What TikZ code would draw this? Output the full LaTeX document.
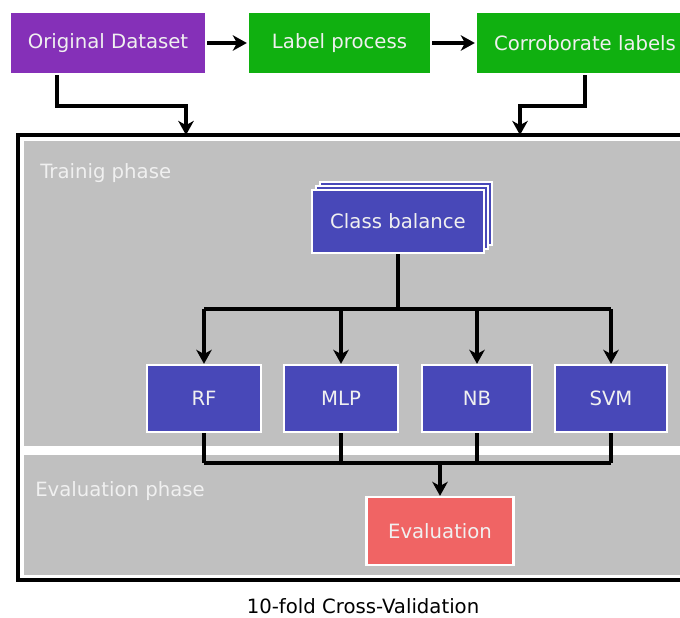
\documentclass[tikz,border=0pt]{standalone}
\usepackage{fontspec}
\setmainfont{DejaVu Sans}
\usetikzlibrary{arrows.meta}
\definecolor{zpurple}{RGB}{133,48,184}
\definecolor{zgreen}{RGB}{16,176,16}
\definecolor{zblue}{RGB}{72,72,184}
\definecolor{zred}{RGB}{240,100,100}
\definecolor{zgray}{RGB}{192,192,192}
\definecolor{zlight}{RGB}{240,240,240}
\tikzset{zbox/.style={
  draw=white,
  line width=1.6pt,
  text=zlight,
  inner sep=0pt,
  font=\fontsize{14}{16}\selectfont}}
\tikzset{zline/.style={
  draw=black,
  line width=2.6pt}}
\tikzset{zarrow/.style={
  zline,
  -{Stealth[length=10pt,width=11pt,inset=3pt]}}}
\tikzset{zphase/.style={
  anchor=west,
  inner sep=0pt,
  text=zlight,
  font=\fontsize{14}{16}\selectfont}}

\begin{document}
\begin{tikzpicture}[x=0.025cm,y=-0.025cm]
  \useasboundingbox (0,0) rectangle (680,618);

  %%%% Frame of the cross validation and its two phases %%%%
  \fill[zgray] (24,141) rectangle (700,446);
  \fill[zgray] (24,455) rectangle (700,575);
  \draw[line width=2.4pt] (18,135) rectangle (700,580);
  \node[zphase] (trainlbl) at (40,173) {Trainig phase};
  \node[zphase] (evallbl) at (35,491) {Evaluation phase};
  \node[font=\fontsize{14}{16}\selectfont] (cv) at (363,606) {10-fold Cross-Validation};

  %%%% Data preparation %%%%
  \node[zbox,fill=zpurple,minimum width=4.9cm,minimum height=1.55cm] (od) at (108,43) {Original Dataset};
  \node[zbox,fill=zgreen,minimum width=4.575cm,minimum height=1.55cm] (lp) at (339.5,43) {Label process};
  \node[zbox,fill=zgreen,minimum width=5.45cm,minimum height=1.55cm] (cl) at (585,43) {Corroborate labels};
  \draw[zarrow] (od) -- (lp);
  \draw[zarrow] (lp) -- (cl);
  \coordinate (odin) at (186,135);
  \coordinate (clin) at (520,135);
  \draw[zarrow] ([xshift=1.2cm]od.south west) -- ++(0,31) -| (odin);
  \draw[zarrow] (cl.south) -- ++(0,31) -| (clin);

  %%%% Training phase %%%%
  \node[zbox,fill=zblue,minimum width=4.3cm,minimum height=1.575cm] (cb3) at (406,213.5) {};
  \node[zbox,fill=zblue,minimum width=4.3cm,minimum height=1.575cm] (cb2) at (402,217.5) {};
  \node[zbox,fill=zblue,minimum width=4.3cm,minimum height=1.575cm] (cb) at (398,221.5) {Class balance};
  \node[zbox,fill=zblue,minimum width=2.85cm,minimum height=1.675cm] (rf) at (204,398.5) {RF};
  \node[zbox,fill=zblue,minimum width=2.85cm,minimum height=1.675cm] (mlp) at (341,398.5) {MLP};
  \node[zbox,fill=zblue,minimum width=2.75cm,minimum height=1.675cm] (nb) at (477,398.5) {NB};
  \node[zbox,fill=zblue,minimum width=2.8cm,minimum height=1.675cm] (svm) at (611,398.5) {SVM};
  \coordinate (split) at (398,309);
  \draw[zline] (cb.south) -- (split);
  \draw[zline] (rf.north |- split) -- (svm.north |- split);
  \foreach \c in {rf,mlp,nb,svm}{
    \draw[zarrow] (\c.north |- split) -- (\c.north);
  }

  %%%% Evaluation phase %%%%
  \node[zbox,fill=zred,minimum width=3.675cm,minimum height=1.7cm] (eval) at (440,531) {Evaluation};
  \coordinate (merge) at (440,463);
  \foreach \c in {rf,mlp,nb,svm}{
    \draw[zline] (\c.south) -- (\c.south |- merge);
  }
  \draw[zline] (rf.south |- merge) -- (svm.south |- merge);
  \draw[zarrow] (merge) -- (eval.north);

\end{tikzpicture}
\end{document}
